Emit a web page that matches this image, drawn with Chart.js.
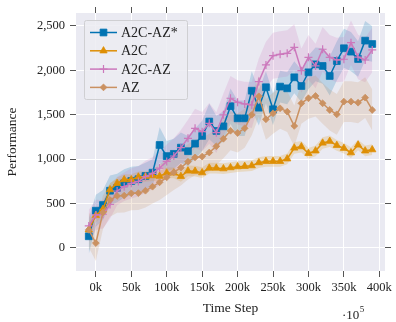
<!DOCTYPE html>
<html>
<head>
<meta charset="utf-8">
<script src="https://cdn.jsdelivr.net/npm/chart.js@4.4.1/dist/chart.umd.min.js"></script>
<style>
    html, body { margin: 0; padding: 0; background: #ffffff; }
    #wrap { width: 396px; height: 322px; position: relative; }
</style>
</head>
<body>
<div id="wrap"><canvas id="grafico"></canvas></div>
<script>

// time steps, in thousands
const steps = [-10, 0, 10, 20, 30, 40, 50, 60, 70, 80, 90, 100, 110, 120, 130, 140, 150, 160, 170, 180,
    190, 200, 210, 220, 230, 240, 250, 260, 270, 280, 290, 300, 310, 320, 330, 340, 350, 360, 370, 380, 390];

const xTicks = [0, 50, 100, 150, 200, 250, 300, 350, 400];
const yTicks = [0, 500, 1000, 1500, 2000, 2500];

const a2cAzStar = [132, 420, 484, 645, 676, 728, 754, 774, 811, 848, 1160, 1035, 1060, 1130, 1090, 1175, 1262, 1424, 1318, 1370,
    1597, 1460, 1460, 1771, 1580, 1810, 1562, 1817, 1798, 1922, 1824, 1978, 2068, 2050, 1937, 2105, 2249, 2211, 2128, 2335, 2297];
const a2cAzStarSd = [200, 180, 170, 170, 160, 160, 160, 150, 150, 150, 200, 170, 170, 170, 170, 170, 170, 200, 170, 170,
    200, 200, 200, 220, 200, 180, 180, 180, 180, 180, 180, 190, 190, 200, 220, 220, 220, 220, 200, 220, 200];

const a2c = [205, 368, 436, 657, 728, 770, 770, 800, 805, 815, 808, 845, 845, 807, 868, 865, 848, 900, 900, 893,
    905, 916, 920, 927, 961, 976, 976, 976, 1004, 1126, 1141, 1066, 1094, 1182, 1202, 1156, 1123, 1073, 1160, 1094, 1107];
const a2cSd = [90, 80, 70, 70, 65, 60, 60, 60, 60, 60, 60, 60, 60, 60, 60, 60, 60, 60, 60, 60,
    60, 60, 60, 60, 60, 60, 60, 60, 60, 65, 65, 60, 60, 65, 65, 60, 60, 60, 60, 60, 60];

const a2cAz = [248, 372, 380, 490, 642, 690, 728, 750, 803, 841, 900, 975, 1036, 1130, 1235, 1348, 1310, 1404, 1299, 1500,
    1686, 1640, 1622, 1610, 1874, 2061, 2165, 2181, 2192, 2260, 1997, 2147, 2050, 2238, 2147, 2117, 2125, 2312, 2150, 2117, 2230];
const a2cAzSd = [180, 170, 160, 160, 160, 160, 170, 170, 180, 180, 190, 190, 200, 200, 210, 220, 220, 230, 230, 240,
    250, 250, 250, 260, 260, 260, 260, 260, 260, 260, 250, 250, 250, 250, 250, 250, 250, 250, 250, 250, 250];

const az = [205, 55, 400, 541, 586, 590, 616, 618, 645, 690, 740, 796, 852, 904, 972, 1020, 1029, 1075, 1145, 1230,
    1320, 1295, 1348, 1500, 1708, 1449, 1517, 1573, 1535, 1374, 1629, 1686, 1712, 1629, 1554, 1505, 1648, 1648, 1636, 1693, 1554];
const azSd = [200, 200, 190, 190, 190, 190, 190, 190, 190, 190, 200, 200, 200, 200, 200, 200, 210, 210, 210, 220,
    220, 220, 220, 230, 230, 230, 230, 230, 230, 230, 230, 230, 230, 230, 230, 230, 230, 230, 230, 230, 230];

const series = [
    { label: 'A2C-AZ*', dados: a2cAzStar, sd: a2cAzStarSd, cor: '1,115,178', ponto: 'rect', raio: 4.8, ordem: 4 },
    { label: 'A2C', dados: a2c, sd: a2cSd, cor: '222,143,5', ponto: 'triangle', raio: 4.2, ordem: 3 },
    { label: 'A2C-AZ', dados: a2cAz, sd: a2cAzSd, cor: '204,120,188', ponto: 'cross', raio: 4, ordem: 2 },
    { label: 'AZ', dados: az, sd: azSd, cor: '202,145,97', ponto: 'rectRot', raio: 3.4, ordem: 1 }
];

const FONTE = "'Liberation Serif', 'Times New Roman', serif";

function pontos(valores) {
    return steps.map((s, i) => ({ x: s, y: valores[i] }));
}

const datasets = [];
series.forEach(s => {
    datasets.push({
        label: s.label,
        data: pontos(s.dados),
        borderColor: 'rgb(' + s.cor + ')',
        backgroundColor: 'rgb(' + s.cor + ')',
        borderWidth: 1.5,
        pointStyle: s.ponto,
        pointRadius: s.raio,
        pointBorderWidth: s.ponto === 'cross' ? 1.2 : 0.8,
        fill: false,
        tension: 0,
        order: s.ordem
    });
});
series.forEach(s => {
    datasets.push({
        label: '_lo',
        data: pontos(s.dados.map((v, i) => v - s.sd[i])),
        borderWidth: 0,
        pointRadius: 0,
        fill: false,
        order: 10 + s.ordem
    });
    datasets.push({
        label: '_hi',
        data: pontos(s.dados.map((v, i) => v + s.sd[i])),
        borderWidth: 0,
        pointRadius: 0,
        backgroundColor: 'rgba(' + s.cor + ',0.2)',
        fill: '-1',
        order: 10 + s.ordem
    });
});

const fundoPlot = {
    id: 'fundoPlot',
    beforeDraw(chart) {
        const a = chart.chartArea;
        const ctx = chart.ctx;
        ctx.save();
        ctx.fillStyle = '#eaeaf2';
        ctx.fillRect(a.left, a.top, a.right - a.left, a.bottom - a.top);
        ctx.restore();
    }
};

const legendaBox = {
    id: 'legendaBox',
    afterDraw(chart) {
        const ctx = chart.ctx;
        ctx.save();
        ctx.fillStyle = 'rgba(236,236,242,0.85)';
        ctx.strokeStyle = '#cfcfd2';
        ctx.lineWidth = 1;
        ctx.beginPath();
        ctx.roundRect(84.5, 20.5, 103, 79, 2);
        ctx.fill();
        ctx.stroke();
        series.forEach((s, i) => {
            const y = 32.5 + i * 18.3;
            ctx.strokeStyle = 'rgb(' + s.cor + ')';
            ctx.fillStyle = 'rgb(' + s.cor + ')';
            ctx.lineWidth = 1.5;
            ctx.beginPath();
            ctx.moveTo(90, y);
            ctx.lineTo(117, y);
            ctx.stroke();
            ctx.lineWidth = s.ponto === 'cross' ? 1.2 : 0.8;
            Chart.helpers.drawPoint(ctx, { pointStyle: s.ponto, radius: s.raio, borderWidth: ctx.lineWidth, rotation: 0 }, 103.5, y);
            ctx.fillStyle = '#222';
            ctx.font = '14px ' + FONTE;
            ctx.textBaseline = 'middle';
            ctx.textAlign = 'left';
            ctx.fillText(s.label, 121, y + 1);
        });
        // offset do eixo x
        ctx.fillStyle = '#222';
        ctx.font = '13px ' + FONTE;
        ctx.textBaseline = 'middle';
        ctx.fillText('\u00b710', 342, 316);
        const w = ctx.measureText('\u00b710').width;
        ctx.font = '9px ' + FONTE;
        ctx.fillText('5', 342 + w + 0.5, 310);
        ctx.restore();
    }
};

const tickMarks = (ticks) => (axis) => { axis.ticks = ticks.map(v => ({ value: v })); };

new Chart(document.getElementById('grafico'), {
    type: 'line',
    data: { datasets: datasets },
    plugins: [fundoPlot, legendaBox],
    options: {
        responsive: true,
        maintainAspectRatio: false,
        animation: false,
        layout: { padding: 0 },
        plugins: {
            legend: { display: false },
            tooltip: { enabled: false }
        },
        scales: {
            x: {
                type: 'linear',
                position: 'bottom',
                min: -28,
                max: 408,
                afterBuildTicks: tickMarks(xTicks),
                afterFit: s => { s.height = 51; },
                border: { display: false },
                grid: { color: '#ffffff', lineWidth: 1, tickColor: '#555', tickLength: 6, tickWidth: 1 },
                ticks: {
                    color: '#222', padding: 3, maxRotation: 0,
                    font: { family: FONTE, size: 12.5 },
                    callback: v => v + 'k'
                },
                title: {
                    display: true, text: 'Time Step', color: '#222',
                    font: { family: FONTE, size: 13.5 },
                    padding: { top: 0, bottom: 5 }
                }
            },
            x2: {
                type: 'linear',
                position: 'top',
                min: -28,
                max: 408,
                afterBuildTicks: tickMarks(xTicks),
                afterFit: s => { s.height = 13; },
                border: { display: false },
                grid: { drawOnChartArea: false, tickColor: '#555', tickLength: 6 },
                ticks: { display: false }
            },
            y: {
                type: 'linear',
                position: 'left',
                min: -259,
                max: 2646,
                afterBuildTicks: tickMarks(yTicks),
                afterFit: s => { s.width = 76; },
                border: { display: false },
                grid: { color: '#ffffff', lineWidth: 1, tickColor: '#555', tickLength: 6, tickWidth: 1 },
                ticks: {
                    color: '#222', padding: 5,
                    font: { family: FONTE, size: 12.5 },
                    callback: v => v.toLocaleString('en-US')
                },
                title: {
                    display: true, text: 'Performance', color: '#222',
                    font: { family: FONTE, size: 13.5 },
                    padding: { top: 4, bottom: 0 }
                }
            },
            y2: {
                type: 'linear',
                position: 'right',
                min: -259,
                max: 2646,
                afterBuildTicks: tickMarks(yTicks),
                afterFit: s => { s.width = 11; },
                border: { display: false },
                grid: { drawOnChartArea: false, tickColor: '#555', tickLength: 6 },
                ticks: { display: false }
            }
        }
    }
});
</script>
</body>
</html>
